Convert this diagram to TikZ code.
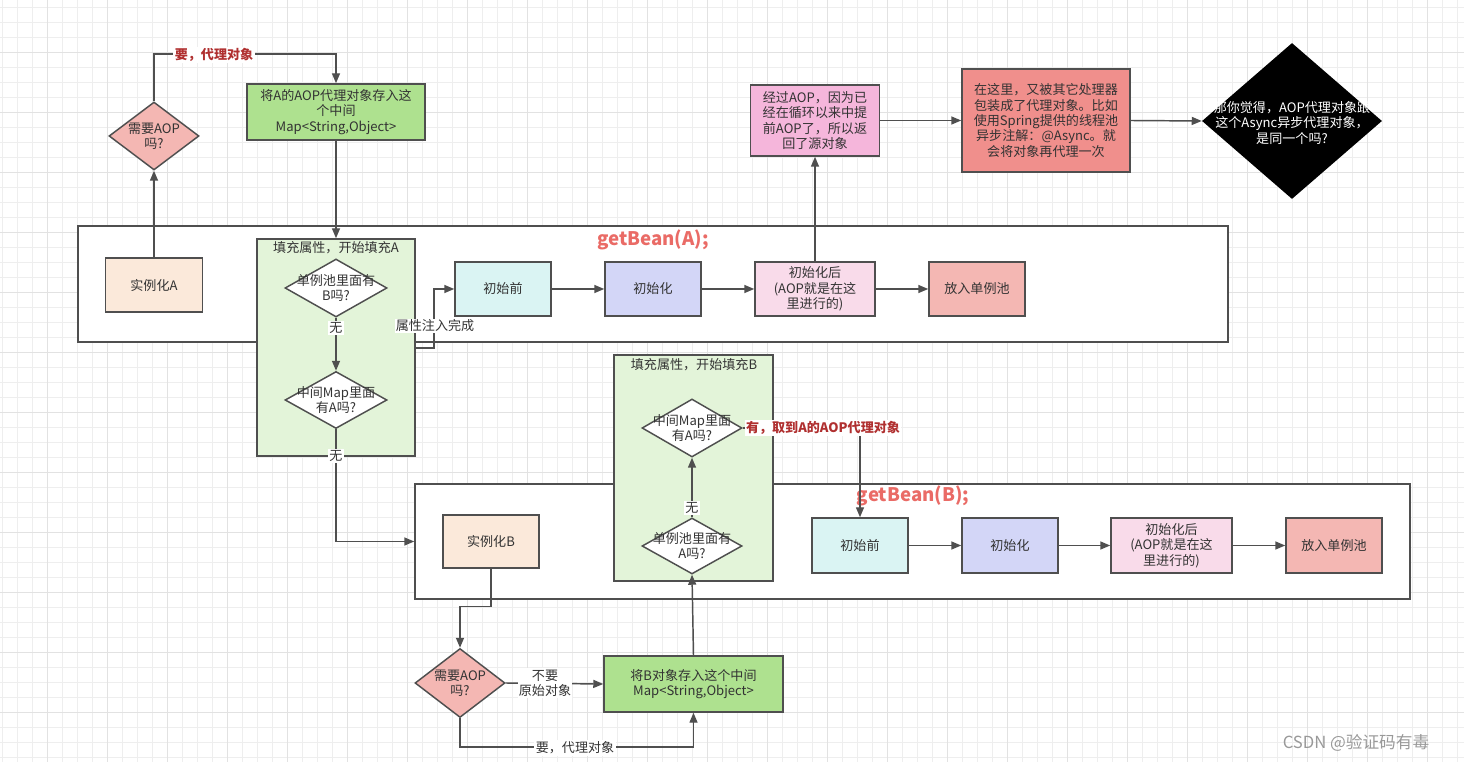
\documentclass[tikz,border=0pt]{standalone}
\usepackage{fontspec}
\setmainfont{Noto Sans CJK SC}
\usetikzlibrary{shapes.geometric,arrows.meta}
\definecolor{bd}{HTML}{4F4F4F}
\definecolor{txt}{HTML}{333333}
\definecolor{gridm}{HTML}{EEEEEE}
\definecolor{gridM}{HTML}{E2E2E2}
\definecolor{peach}{HTML}{FBE9DA}
\definecolor{panelg}{HTML}{E3F4D9}
\definecolor{boxg}{HTML}{AEE18F}
\definecolor{cyanb}{HTML}{DAF4F3}
\definecolor{lav}{HTML}{D3D6F7}
\definecolor{pinkl}{HTML}{F9DBEA}
\definecolor{salmon}{HTML}{F4B7B3}
\definecolor{pinkaop}{HTML}{F5B6DB}
\definecolor{redbox}{HTML}{F08F8C}
\definecolor{gbred}{HTML}{EA6B66}
\definecolor{lblred}{HTML}{B03030}
\tikzset{
  sz/.style 2 args={minimum width={#1*0.75pt}, minimum height={#2*0.75pt}},
  bx/.style={draw=bd, line width=1.1pt, rectangle, inner sep=0pt, align=center},
  dia/.style={draw=bd, line width=1.1pt, diamond, inner sep=0pt},
  dtxt/.style={align=center, inner sep=0pt},
  arr/.style={draw=bd, line width=1.1pt, -{Triangle[length=7.5pt,width=6pt]}},
  ln/.style={draw=bd, line width=1.1pt},
  lbl/.style={fill=white, inner sep=1pt, align=center},
  lblr/.style={fill=white, inner sep=1pt, text=lblred, font=\fontsize{9.8}{11.5}\selectfont\bfseries},
  gb/.style={text=gbred, font=\fontsize{14}{16}\selectfont\bfseries},
  every node/.style={font=\fontsize{9.8}{11.5}\selectfont, text=txt}
}
\begin{document}
\begin{tikzpicture}[x=0.75pt,y=-0.75pt]
\useasboundingbox (0,0) rectangle (1464,762);
\fill[white] (0,0) rectangle (1464,762);
% grid
\foreach \x in {2,17,...,1464} \draw[gridm, line width=0.6pt] (\x,0) -- (\x,762);
\foreach \y in {7,22,...,762} \draw[gridm, line width=0.6pt] (0,\y) -- (1464,\y);
\foreach \x in {47,107,...,1464} \draw[gridM, line width=0.7pt] (\x,0) -- (\x,762);
\foreach \y in {52,112,...,762} \draw[gridM, line width=0.7pt] (0,\y) -- (1464,\y);

% frames
\node[bx, fill=white, sz={1150}{116}] (fA) at (653,284) {};
\node[bx, fill=white, sz={995}{115}] (fB) at (912.5,541.5) {};

% panels
\node[bx, fill=panelg, sz={158}{217}] (pA) at (336,347.5) {};
\node (pAt) at (336,248) {填充属性，开始填充A};
\node[bx, fill=panelg, sz={159}{226}] (pB) at (693.5,468) {};
\node (pBt) at (694,365) {填充属性，开始填充B};

% getBean labels
\node[gb] (gbA) at (653,240) {getBean(A);};
\node[gb] (gbB) at (913,496) {getBean(B);};

% top-left
\node[bx, fill=peach, sz={97}{54}] (ia) at (154,285) {实例化A};
\node[dia, fill=salmon, sz={90}{68}] (aopA) at (154,136) {};
\node[dtxt] (aopAt) at (aopA) {需要AOP\\吗?};
\node[bx, fill=boxg, sz={178}{56}] (gA) at (336,112) {将A的AOP代理对象存入这\\个中间\\Map<String,Object>};

% panel A diamonds
\node[dia, fill=white, sz={102}{58}] (dA1) at (336,288) {};
\node[dtxt] (dA1t) at (dA1) {单例池里面有\\B吗?};
\node[dia, fill=white, sz={102}{57}] (dA2) at (336,400) {};
\node[dtxt] (dA2t) at (dA2) {中间Map里面\\有A吗?};

% row A
\node[bx, fill=cyanb, sz={96}{54}] (bA1) at (503,289) {初始前};
\node[bx, fill=lav, sz={96}{54}] (bA2) at (653,289) {初始化};
\node[bx, fill=pinkl, sz={120}{54}] (bA3) at (815,289) {初始化后\\(AOP就是在这\\里进行的)};
\node[bx, fill=salmon, sz={96}{54}] (bA4) at (977,289) {放入单例池};

% top right
\node[bx, fill=pinkaop, sz={129}{71}] (pk) at (815,120.5) {经过AOP，因为已\\经在循环以来中提\\前AOP了，所以返\\回了源对象};
\node[bx, fill=redbox, sz={168}{103}] (rb) at (1046,120.5) {在这里，又被其它处理器\\包装成了代理对象。比如\\使用Spring提供的线程池\\异步注解：@Async。就\\会将对象再代理一次};
\node[diamond, fill=black, inner sep=0pt, sz={180}{156}] (bk) at (1292,121) {};
\node[dtxt, text=white] (bkt) at (1292,123) {那你觉得，AOP代理对象跟\\这个Async异步代理对象，\\是同一个吗?};

% panel B diamonds
\node[dia, fill=white, sz={100}{58}] (dB2) at (692,428) {};
\node[dtxt] (dB2t) at (dB2) {中间Map里面\\有A吗?};
\node[dia, fill=white, sz={100}{56}] (dB1) at (692,546) {};
\node[dtxt] (dB1t) at (dB1) {单例池里面有\\A吗?};

% row B
\node[bx, fill=peach, sz={96}{53}] (iB) at (491,541.5) {实例化B};
\node[bx, fill=cyanb, sz={96}{55}] (bB1) at (860,545.5) {初始前};
\node[bx, fill=lav, sz={96}{55}] (bB2) at (1010,545.5) {初始化};
\node[bx, fill=pinkl, sz={121}{55}] (bB3) at (1171.5,545.5) {初始化后\\(AOP就是在这\\里进行的)};
\node[bx, fill=salmon, sz={96}{55}] (bB4) at (1334,545.5) {放入单例池};

% bottom
\node[dia, fill=salmon, sz={90}{69}] (aopB) at (460,683) {};
\node[dtxt] (aopBt) at (aopB) {需要AOP\\吗?};
\node[bx, fill=boxg, sz={179}{56}] (gB) at (693.5,684) {将B对象存入这个中间\\Map<String,Object>};

% connectors
\draw[arr] (ia.north) -- (aopA.south);
\draw[arr] (aopA.north) -- (aopA.north |- 0,54) -| (gA.north);
\node[lblr] (l1) at (214,55) {要，代理对象};
\draw[arr] (gA.south) -- (pA.north);
\draw[arr] (dA1.south) -- (dA2.north);
\node[lbl] (l2) at (336,328) {无};
\draw[arr] (dA2.south) |- (fB.west);
\node[lbl] (l3) at (336,456) {无};
\draw[arr] (pA.east |- 0,348) -- (434,348) |- (bA1.west);
\node[lbl, inner sep=0.5pt] (l4) at (435,326) {属性注入完成};
\draw[arr] (bA1.east) -- (bA2.west);
\draw[arr] (bA2.east) -- (bA3.west);
\draw[arr] (bA3.east) -- (bA4.west);
\draw[arr] (bA3.north) -- (pk.south);
\draw[arr] (pk.east) -- (rb.west);
\draw[arr] (rb.east) -- (bk.west);

\draw[arr] (gB.north) -- (dB1.south);
\draw[arr] (dB1.north) -- (dB2.south);
\node[lbl] (l5) at (692,508) {无};
\draw[arr] (dB2.east) -| (bB1.north);
\node[lblr] (l6) at (823,428) {有，取到A的AOP代理对象};
\draw[arr] (bB1.east) -- (bB2.west);
\draw[arr] (bB2.east) -- (bB3.west);
\draw[arr] (bB3.east) -- (bB4.west);

\draw[arr] (iB.south) -- ++(0,38) -| (aopB.north);
\draw[arr] (aopB.east) -- (gB.west);
\node[lbl] (l7) at (545,683) {不要\\原始对象};
\draw[arr] (aopB.south) -- (aopB.south |- 0,747) -| (gB.south);
\node[lbl] (l8) at (575,748) {要，代理对象};

\node[text=gray!80, font=\fontsize{12.5}{14}\selectfont] (wm) at (1356,743) {CSDN @验证码有毒};
\end{tikzpicture}
\end{document}
